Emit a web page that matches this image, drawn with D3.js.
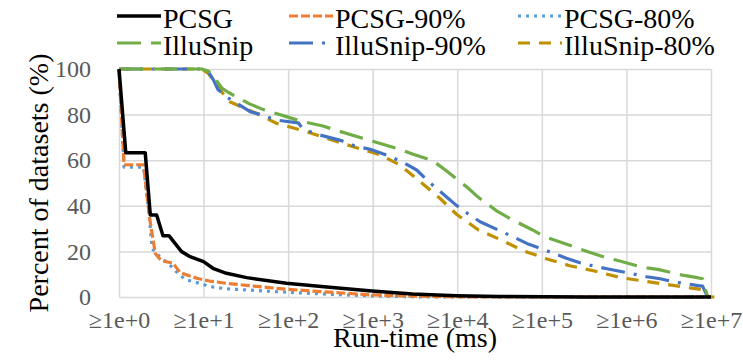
<!DOCTYPE html>
<html lang="en">
<head>
    <meta charset="UTF-8">
    <title>Run-time distribution</title>
    <script src="https://d3js.org/d3.v7.min.js"></script>
</head>
<body style="margin:0; background:#fff">
    <div id="chart-container"></div>

    <script>
        // x = log10 of run-time in ms, y = percent of datasets
        const xTicks = [0, 1, 2, 3, 4, 5, 6, 7];
        const yTicks = [0, 20, 40, 60, 80, 100];

        const pcsg = [[0,100],[0.08,63.3],[0.31,63.3],[0.37,36],[0.445,36],[0.52,26.9],[0.59,26.9],[0.74,19.9],[0.84,17.7],[1.0,15.5],[1.11,12.6],[1.27,10.4],[1.51,8.5],[1.98,6.0],[2.49,4.3],[2.99,2.6],[3.47,1.3],[3.99,0.6],[4.5,0.2],[5.5,0],[7,0]];
        const pcsg90 = [[0,100],[0.06,58],[0.29,58],[0.36,35],[0.43,19],[0.5,16],[0.64,14.8],[0.72,10.8],[0.92,8.2],[1.07,7],[1.27,6],[1.51,5.1],[1.98,3.4],[2.49,2.1],[2.99,0.9],[3.47,0.4],[4,0.1],[4.5,0],[7,0]];
        const pcsg80 = [[0,100],[0.06,57],[0.29,57],[0.36,35],[0.39,21.3],[0.48,17.7],[0.58,14.8],[0.72,9.5],[0.8,7.5],[1.0,5.5],[1.07,4.6],[1.27,3.6],[1.51,3.1],[1.98,2.1],[2.49,1.2],[2.99,0.5],[3.5,0.1],[4,0],[7,0]];
        const illu = [[0,100],[0.98,100],[1.06,99],[1.12,97],[1.17,94],[1.22,91.5],[1.29,89.8],[1.55,84.6],[1.70,82.3],[1.98,79.1],[2.14,77.2],[2.41,75],[2.59,72.9],[2.88,69.6],[3.02,68.1],[3.32,64.8],[3.47,62.7],[3.71,59.8],[3.87,55.4],[4.12,48],[4.24,44],[4.48,37.4],[4.62,34.5],[4.89,29.4],[5.03,26.5],[5.32,22.8],[5.46,20.9],[5.76,17.2],[5.91,15.9],[6.19,13],[6.37,12.1],[6.66,9.6],[6.82,8.6],[6.9,8.0],[6.96,0],[7,0]];
        const illu90 = [[0,100],[0.98,100],[1.06,98.5],[1.12,95],[1.17,91],[1.27,87.8],[1.55,81.3],[1.69,79.8],[1.86,77.6],[2.12,76.4],[2.18,73.5],[2.38,71],[2.63,68.6],[2.79,66.2],[2.97,64.8],[3.2,61.8],[3.38,58.6],[3.52,55.7],[3.66,50.6],[3.87,44],[3.99,40.2],[4.13,36.4],[4.27,33],[4.54,28.4],[4.70,25.7],[4.84,23.2],[5.0,21.1],[5.29,17],[5.45,15],[5.61,13.6],[5.77,12.4],[6.08,10.1],[6.24,8.9],[6.4,8],[6.55,6.7],[6.85,5],[6.9,4.8],[6.96,0],[7,0]];
        const illu80 = [[0,100],[0.98,100],[1.06,98],[1.12,94.5],[1.19,91],[1.31,85.6],[1.67,79.8],[1.86,76.2],[2.22,72.5],[2.49,69.2],[2.77,65.9],[3.09,62.3],[3.32,57.9],[3.48,53.1],[3.8,43.1],[3.99,36.3],[4.25,29.4],[4.52,25],[4.78,20.3],[5.06,16.7],[5.33,13.7],[5.61,11.5],[5.92,8.6],[6.2,7],[6.51,5.3],[6.79,3.8],[6.9,3.2],[6.97,0],[7.04,0]];

        const seriesNames = ["PCSG", "PCSG-90%", "PCSG-80%", "IlluSnip", "IlluSnip-90%", "IlluSnip-80%"];
        const seriesData = [pcsg, pcsg90, pcsg80, illu, illu90, illu80];

        const styles = {
            "PCSG":         { color: "#000000", dash: null,       width: 3.5 },
            "PCSG-90%":     { color: "#ED7D31", dash: "9,3",      width: 3.2 },
            "PCSG-80%":     { color: "#5B9BD5", dash: "3,5",      width: 3.2 },
            "IlluSnip":     { color: "#70AD47", dash: "24,10",    width: 3.2 },
            "IlluSnip-90%": { color: "#4472C4", dash: "24,9,3,9", width: 3.2 },
            "IlluSnip-80%": { color: "#BF9000", dash: "12,9",     width: 3.2 }
        };

        const FONT = '"Liberation Serif", "Times New Roman", serif';
        const W = 743, H = 362;
        const plotLeft = 119, plotRight = 711, plotTop = 69, plotBottom = 297;

        const svg = d3.select("#chart-container")
            .append("svg")
            .attr("width", W)
            .attr("height", H);

        const x = d3.scaleLinear().domain([0, 7]).range([plotLeft, plotRight]);
        const y = d3.scaleLinear().domain([0, 100]).range([plotBottom, plotTop]);

        // gridlines
        svg.append("g")
            .attr("class", "grid-x")
            .attr("transform", `translate(0,${plotBottom})`)
            .call(d3.axisBottom(x).tickValues(xTicks).tickSize(-(plotBottom - plotTop)).tickFormat(""))
            .call(g => g.select(".domain").remove())
            .call(g => g.selectAll("line").attr("stroke", "#d9d9d9").attr("stroke-width", 1.5));

        svg.append("g")
            .attr("class", "grid-y")
            .attr("transform", `translate(${plotLeft},0)`)
            .call(d3.axisLeft(y).tickValues(yTicks).tickSize(-(plotRight - plotLeft)).tickFormat(""))
            .call(g => g.select(".domain").remove())
            .call(g => g.selectAll("line").attr("stroke", "#d9d9d9").attr("stroke-width", 1.5));

        // tick labels
        svg.append("g")
            .attr("class", "axis-x")
            .attr("transform", `translate(0,${plotBottom})`)
            .call(d3.axisBottom(x).tickValues(xTicks).tickSize(0).tickPadding(14).tickFormat(d => "≥1e+" + d))
            .call(g => g.select(".domain").remove())
            .call(g => g.selectAll("text")
                .style("font-family", FONT)
                .style("font-size", "24px")
                .attr("fill", "#595959"));

        svg.append("g")
            .attr("class", "axis-y")
            .attr("transform", `translate(${plotLeft},0)`)
            .call(d3.axisLeft(y).tickValues(yTicks).tickSize(0).tickPadding(28))
            .call(g => g.select(".domain").remove())
            .call(g => g.selectAll("text")
                .style("font-family", FONT)
                .style("font-size", "24px")
                .attr("fill", "#595959"));

        // lines
        const line = d3.line()
            .x(d => x(d[0]))
            .y(d => y(d[1]));

        // draw back to front so PCSG ends on top
        [5, 4, 3, 2, 1, 0].forEach(i => {
            const st = styles[seriesNames[i]];
            svg.append("path")
                .datum(seriesData[i])
                .attr("fill", "none")
                .attr("stroke", st.color)
                .attr("stroke-width", st.width)
                .attr("stroke-linejoin", "round")
                .attr("stroke-dasharray", st.dash)
                .attr("d", line);
        });

        // axis titles
        svg.append("text")
            .attr("x", (plotLeft + plotRight) / 2)
            .attr("y", 347)
            .attr("text-anchor", "middle")
            .style("font-family", FONT)
            .style("font-size", "28px")
            .attr("fill", "#000")
            .text("Run-time (ms)");

        svg.append("text")
            .attr("transform", `translate(48,${(plotTop + plotBottom) / 2}) rotate(-90)`)
            .attr("text-anchor", "middle")
            .style("font-family", FONT)
            .style("font-size", "28px")
            .attr("fill", "#000")
            .text("Percent of datasets (%)");

        // legend, 3 columns x 2 rows
        const colX = [117, 289, 518];
        const rowY = [16, 43];
        const legend = svg.append("g").attr("class", "legend");
        seriesNames.forEach((name, i) => {
            const st = styles[name];
            const lx = colX[i % 3], ly = rowY[Math.floor(i / 3)];
            legend.append("line")
                .attr("x1", lx).attr("x2", lx + 44)
                .attr("y1", ly).attr("y2", ly)
                .attr("stroke", st.color)
                .attr("stroke-width", st.width)
                .attr("stroke-dasharray", st.dash);
            legend.append("text")
                .attr("x", lx + 46)
                .attr("y", ly + 12)
                .style("font-family", FONT)
                .style("font-size", "28px")
                .attr("fill", "#000")
                .text(name);
        });
    </script>
</body>
</html>
